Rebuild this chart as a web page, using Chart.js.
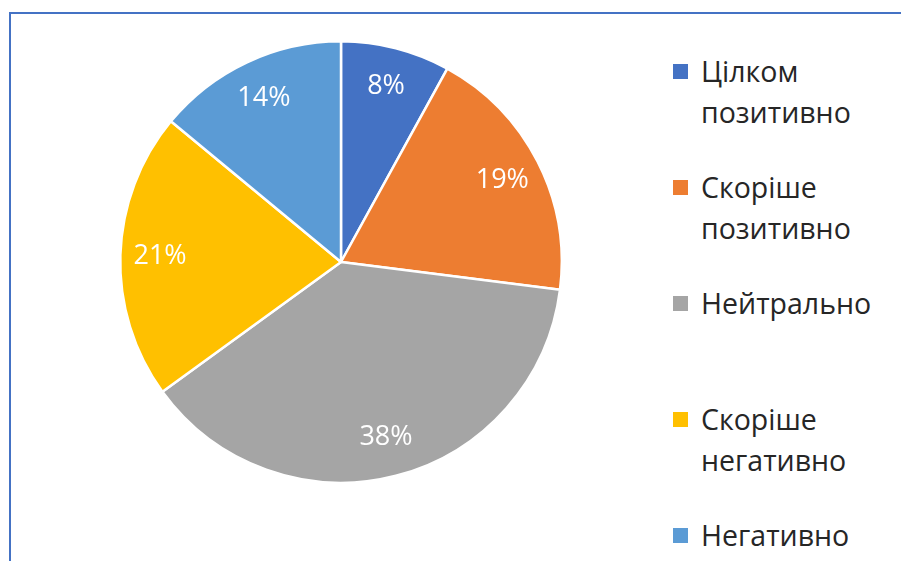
<!DOCTYPE html>
<html lang="uk">
<head>
  <meta charset="UTF-8" />
  <title>Pie</title>
  <script src="https://cdn.jsdelivr.net/npm/chart.js"></script>
  <style>
    html, body { margin: 0; padding: 0; background: #fff; }
    #wrap { position: relative; width: 901px; height: 561px; overflow: hidden; }
    #frame {
      position: absolute; left: 9px; top: 12px; width: 920px; height: 600px;
      border-top: 2px solid #4472C4; border-left: 2px solid #4472C4;
    }
    #pieBox { position: absolute; left: 117px; top: 38px; width: 448px; height: 448px; }
    #legend { position: absolute; left: 673px; top: 51px; font-family: "Open Sans", "Noto Sans", sans-serif; }
    .item { height: 116px; display: flex; align-items: flex-start; }
    .box { width: 15px; height: 15px; margin-top: 13px; margin-right: 13px; flex: none; }
    .txt { font-size: 28.5px; line-height: 41px; color: #262626; }
  </style>
</head>
<body>
  <div id="wrap">
    <div id="frame"></div>
    <div id="pieBox"><canvas id="pie" width="448" height="448"></canvas></div>
    <div id="legend"></div>
  </div>

  <script>
    // categories (line-broken as in the legend) and shares in %
    const categories = [
      ['Цілком', 'позитивно'],
      ['Скоріше', 'позитивно'],
      ['Нейтрально'],
      ['Скоріше', 'негативно'],
      ['Негативно']
    ];
    const shares = [8, 19, 38, 21, 14];
    const colors = ['#4472C4', '#ED7D31', '#A5A5A5', '#FFC000', '#5B9BD5'];

    // percent labels inside the slices
    const sliceLabels = {
      id: 'sliceLabels',
      afterDatasetsDraw(chart) {
        const ctx = chart.ctx;
        const arcs = chart.getDatasetMeta(0).data;
        ctx.save();
        ctx.fillStyle = '#fff';
        ctx.font = '27px "Open Sans", "Noto Sans", sans-serif';
        ctx.textAlign = 'center';
        ctx.textBaseline = 'middle';
        arcs.forEach((arc, i) => {
          const p = arc.getProps(['x', 'y', 'startAngle', 'endAngle', 'outerRadius'], true);
          const mid = (p.startAngle + p.endAngle) / 2;
          const r = p.outerRadius * 0.82;
          ctx.fillText(shares[i] + '%', p.x + Math.cos(mid) * r, p.y + Math.sin(mid) * r);
        });
        ctx.restore();
      }
    };

    new Chart(document.getElementById('pie'), {
      type: 'pie',
      data: {
        labels: categories.map(c => c.join(' ')),
        datasets: [{
          data: shares,
          backgroundColor: colors,
          borderColor: '#fff',
          borderWidth: 2.5
        }]
      },
      options: {
        responsive: false,
        animation: false,
        layout: { padding: 2 },
        plugins: {
          legend: { display: false },
          tooltip: { enabled: false }
        }
      },
      plugins: [sliceLabels]
    });

    // legend on the right
    const legend = document.getElementById('legend');
    categories.forEach((lines, i) => {
      const item = document.createElement('div');
      item.className = 'item';
      item.innerHTML = `<span class="box" style="background:${colors[i]}"></span>
        <span class="txt">${lines.join('<br>')}</span>`;
      legend.appendChild(item);
    });
  </script>
</body>
</html>
